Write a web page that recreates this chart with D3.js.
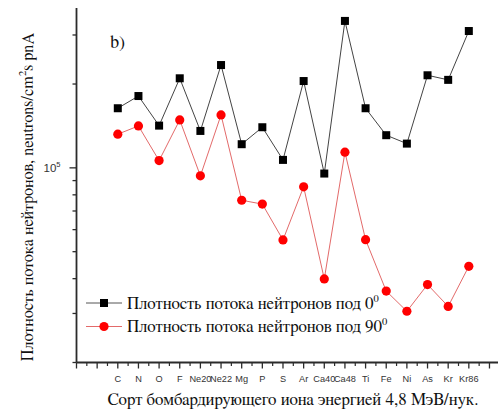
<!DOCTYPE html>
<html>
<head>
<meta charset="utf-8">
<script src="https://cdn.jsdelivr.net/npm/d3@7"></script>
<style>
  html, body { margin: 0; padding: 0; background: #fff; }
  svg { display: block; }
  .serif { font-family: "FreeSerif", serif; }
  .sans { font-family: "Liberation Sans", Arial, sans-serif; }
</style>
</head>
<body>
<svg id="chart" width="498" height="411"></svg>
<script>
// Ion species along the x axis (placed at positions 2..19)
const ions = ["C", "N", "O", "F", "Ne20", "Ne22", "Mg", "P", "S", "Ar",
              "Ca40", "Ca48", "Ti", "Fe", "Ni", "As", "Kr", "Kr86"];

// Neutron flux density at 0 degrees, neutrons/cm^2 s pnA
const flux0 = [163700, 181100, 141800, 209700, 135700, 234000, 121600, 139900, 106800,
               205000, 95400, 337000, 163700, 131000, 122200, 215000, 207000, 310000];

// Neutron flux density at 90 degrees, neutrons/cm^2 s pnA
const flux90 = [132100, 141400, 106200, 148600, 93600, 154900, 76500, 74100, 55100,
                85500, 39900, 113800, 55200, 36100, 30550, 38100, 31800, 44300];

// Log-axis tick values (labelled one and minor ones)
const yMajor = [1e5];
const yMinor = [2e4, 3e4, 4e4, 5e4, 6e4, 7e4, 8e4, 9e4, 2e5, 3e5];

const legendLabels = ["Плотность потока нейтронов под 0", "Плотность потока нейтронов под 90"];
const legendSup = ["0", "0"];

const svg = d3.select("#chart");

const x = d3.scaleLinear().domain([0, 20.5]).range([76.5, 499.8]);
const y = d3.scaleLog().domain([2e4, 3.75e5]).range([362.5, 8]);
const xPos = (d, i) => x(i + 2);

const axisColor = "#2b2b2b";

// X axis: major ticks at whole positions, minor at halves
const xAxis = svg.append("g").attr("transform", `translate(0,${y.range()[0]})`);
xAxis.append("line")
  .attr("x1", x(0)).attr("x2", 498)
  .attr("stroke", axisColor).attr("stroke-width", 1.8);
xAxis.selectAll("line.maj").data(d3.range(0, 21)).join("line")
  .attr("class", "maj")
  .attr("x1", d => x(d)).attr("x2", d => x(d))
  .attr("y1", 0).attr("y2", 6)
  .attr("stroke", axisColor).attr("stroke-width", 1.3);
xAxis.selectAll("line.min").data(d3.range(0.5, 20.5, 1)).join("line")
  .attr("class", "min")
  .attr("x1", d => x(d)).attr("x2", d => x(d))
  .attr("y1", 0).attr("y2", 3.5)
  .attr("stroke", axisColor).attr("stroke-width", 1.2);
xAxis.selectAll("text").data(ions).join("text")
  .attr("class", "sans")
  .attr("x", (d, i) => xPos(d, i))
  .attr("y", 19)
  .attr("text-anchor", "middle")
  .attr("font-size", 9.2)
  .attr("fill", "#333")
  .text(d => d);

// Y axis (log)
const yAxis = svg.append("g").attr("transform", `translate(${x(0)},0)`);
yAxis.append("line")
  .attr("y1", y.range()[0]).attr("y2", y.range()[1])
  .attr("stroke", axisColor).attr("stroke-width", 1.8);
yAxis.selectAll("line.maj").data(yMajor).join("line")
  .attr("class", "maj")
  .attr("x1", -7).attr("x2", 0)
  .attr("y1", d => y(d)).attr("y2", d => y(d))
  .attr("stroke", axisColor).attr("stroke-width", 1.3);
yAxis.selectAll("line.min").data(yMinor).join("line")
  .attr("class", "min")
  .attr("x1", -4).attr("x2", 0)
  .attr("y1", d => y(d)).attr("y2", d => y(d))
  .attr("stroke", axisColor).attr("stroke-width", 1.3);
const yl = yAxis.selectAll("text").data(yMajor).join("text")
  .attr("class", "sans")
  .attr("x", -16)
  .attr("y", d => y(d) + 4.5)
  .attr("text-anchor", "end")
  .attr("font-size", 11.5)
  .attr("fill", "#333");
yl.append("tspan").text("10");
yl.append("tspan").attr("dy", -5).attr("font-size", 7.5).text(d => Math.round(Math.log10(d)));

// Series lines and markers
const line = d3.line().x((d, i) => xPos(d, i)).y(d => y(d));

svg.append("path").datum(flux0)
  .attr("d", line).attr("fill", "none")
  .attr("stroke", "#444").attr("stroke-width", 1);
svg.append("path").datum(flux90)
  .attr("d", line).attr("fill", "none")
  .attr("stroke", "#e36a6a").attr("stroke-width", 1);

svg.selectAll("rect.s0").data(flux0).join("rect")
  .attr("class", "s0")
  .attr("x", (d, i) => xPos(d, i) - 4).attr("y", d => y(d) - 4)
  .attr("width", 8).attr("height", 8)
  .attr("fill", "#000");
svg.selectAll("circle.s90").data(flux90).join("circle")
  .attr("class", "s90")
  .attr("cx", (d, i) => xPos(d, i)).attr("cy", d => y(d))
  .attr("r", 4.6)
  .attr("fill", "#f00");

// Panel label
svg.append("text")
  .attr("class", "serif")
  .attr("x", 110).attr("y", 48)
  .attr("font-size", 18)
  .attr("fill", "#111")
  .text("b)");

// Legend
const legend = svg.append("g");
const legendRows = [
  { y: 303, stroke: "#555", fill: "#000", shape: "square" },
  { y: 326.5, stroke: "#e36a6a", fill: "#f00", shape: "circle" }
];
legendRows.forEach((r, i) => {
  legend.append("line")
    .attr("x1", 86).attr("x2", 122).attr("y1", r.y).attr("y2", r.y)
    .attr("stroke", r.stroke).attr("stroke-width", 1);
  if (r.shape === "square") {
    legend.append("rect").attr("x", 104 - 4).attr("y", r.y - 4)
      .attr("width", 8).attr("height", 8).attr("fill", r.fill);
  } else {
    legend.append("circle").attr("cx", 104).attr("cy", r.y).attr("r", 4.6).attr("fill", r.fill);
  }
  const t = legend.append("text")
    .attr("class", "serif")
    .attr("x", 127).attr("y", r.y + 5.5)
    .attr("font-size", 17)
    .attr("fill", "#111");
  t.append("tspan").text(legendLabels[i]);
  t.append("tspan").attr("dy", -7).attr("font-size", 10.5).text(legendSup[i]);
});

// Axis titles
svg.append("text")
  .attr("class", "serif")
  .attr("x", 293).attr("y", 405)
  .attr("text-anchor", "middle")
  .attr("font-size", 17)
  .attr("fill", "#111")
  .text("Сорт бомбардирующего иона энергией 4,8 МэВ/нук.");

const yt = svg.append("text")
  .attr("class", "serif")
  .attr("transform", "translate(33,197) rotate(-90)")
  .attr("text-anchor", "middle")
  .attr("font-size", 16.4)
  .attr("fill", "#111");
yt.append("tspan").text("Плотность потока нейтронов, neutrons/cm");
yt.append("tspan").attr("dy", -7).attr("font-size", 10.5).text("2");
yt.append("tspan").attr("dy", 7).text("s pnA");
</script>
</body>
</html>
